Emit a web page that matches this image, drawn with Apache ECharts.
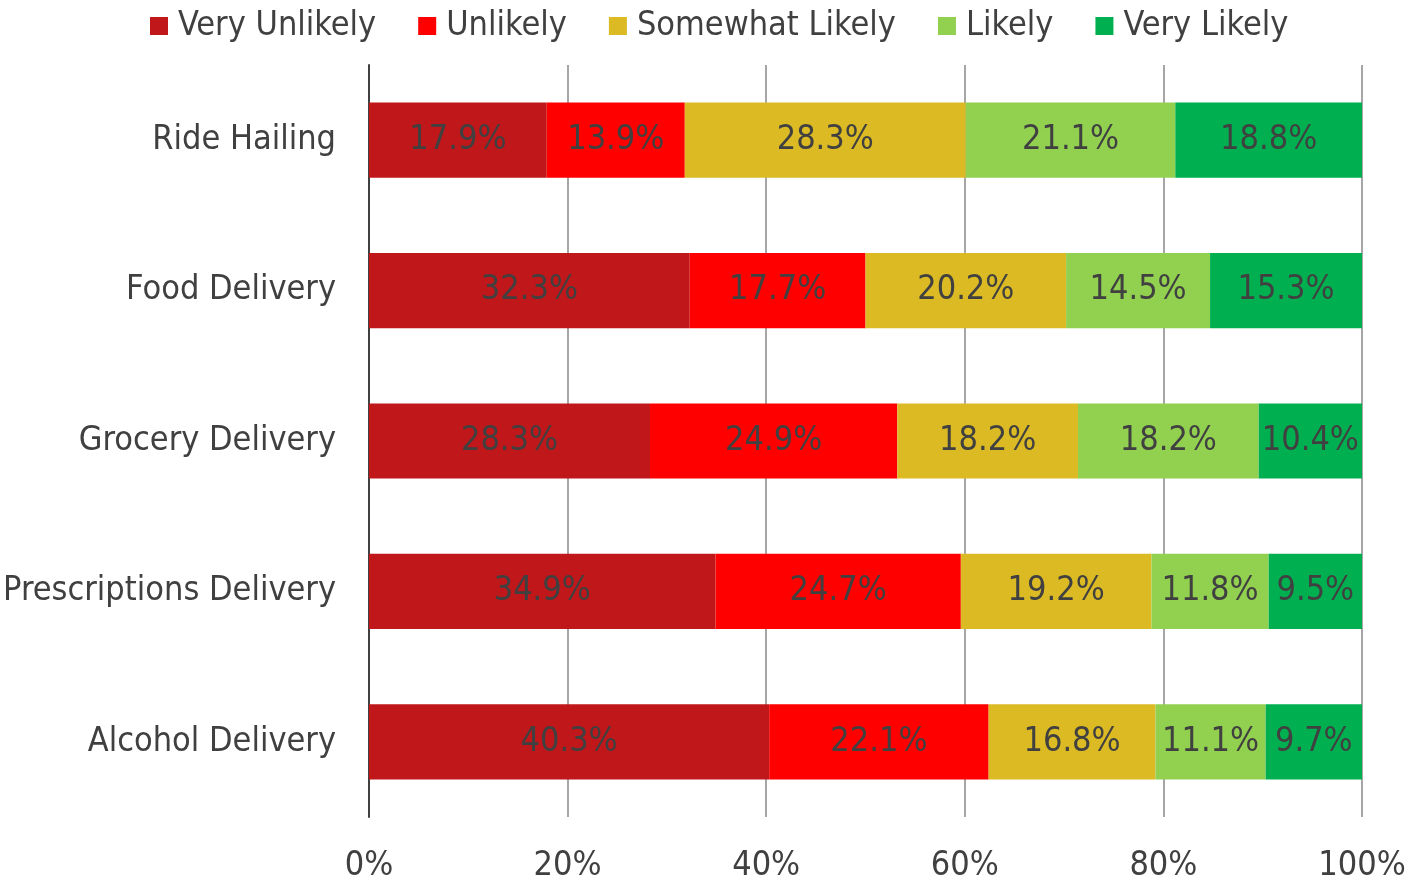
<!DOCTYPE html>
<html><head><meta charset="utf-8">
<script src="https://cdn.jsdelivr.net/npm/echarts@6/dist/echarts.min.js"></script>
<style>html,body{margin:0;padding:0;background:#fff;}#c{width:1424px;height:883px;}</style>
</head><body><div id="c"></div>
<script>
const categories = ['Ride Hailing','Food Delivery','Grocery Delivery','Prescriptions Delivery','Alcohol Delivery'];
const seriesNames = ['Very Unlikely','Unlikely','Somewhat Likely','Likely','Very Likely'];
const veryUnlikely = [17.9, 32.3, 28.3, 34.9, 40.3];
const unlikely = [13.9, 17.7, 24.9, 24.7, 22.1];
const somewhatLikely = [28.3, 20.2, 18.2, 19.2, 16.8];
const likely = [21.1, 14.5, 18.2, 11.8, 11.1];
const veryLikely = [18.8, 15.3, 10.4, 9.5, 9.7];
const colors = ['#C0171A','#FF0000','#DBBA24','#92D050','#00B050'];
const allValues = [veryUnlikely, unlikely, somewhatLikely, likely, veryLikely];

const FONT = '"DejaVu Sans Condensed", "DejaVu Sans", sans-serif';
const chart = echarts.init(document.getElementById('c'));
chart.setOption({
  animation: false,
  textStyle: {fontFamily: FONT},
  legend: {
    top: 4, left: 145,
    itemWidth: 18, itemHeight: 18, itemGap: 42,
    icon: 'rect',
    textStyle: {fontSize: 34, color: '#404040', fontFamily: FONT, padding: [0,0,0,5]},
    data: seriesNames
  },
  grid: {left: 369, right: 62, top: 65, bottom: 65},
  xAxis: {
    type: 'value', min: 0, max: 100, interval: 20,
    axisLabel: {formatter: '{value}%', fontSize: 34, color: '#404040', margin: 32, fontFamily: FONT},
    axisLine: {show: false}, axisTick: {show: false},
    splitLine: {show: true, lineStyle: {color: '#A6A6A6', width: 2}}
  },
  yAxis: {
    type: 'category', data: categories, inverse: true,
    axisLine: {show: true, lineStyle: {color: '#404040', width: 2}},
    axisTick: {show: false},
    axisLabel: {fontSize: 34, color: '#404040', margin: 33, fontFamily: FONT, padding: [8,0,0,0]}
  },
  series: seriesNames.map((n, i) => ({
    name: n, type: 'bar', stack: 'total', barWidth: '50%',
    itemStyle: {color: colors[i]},
    label: {show: true, position: 'inside', formatter: p => p.value.toFixed(1) + '%',
      fontSize: 34, color: '#404040', fontFamily: FONT, padding: [10,0,0,0]},
    data: allValues[i]
  }))
});
</script></body></html>
